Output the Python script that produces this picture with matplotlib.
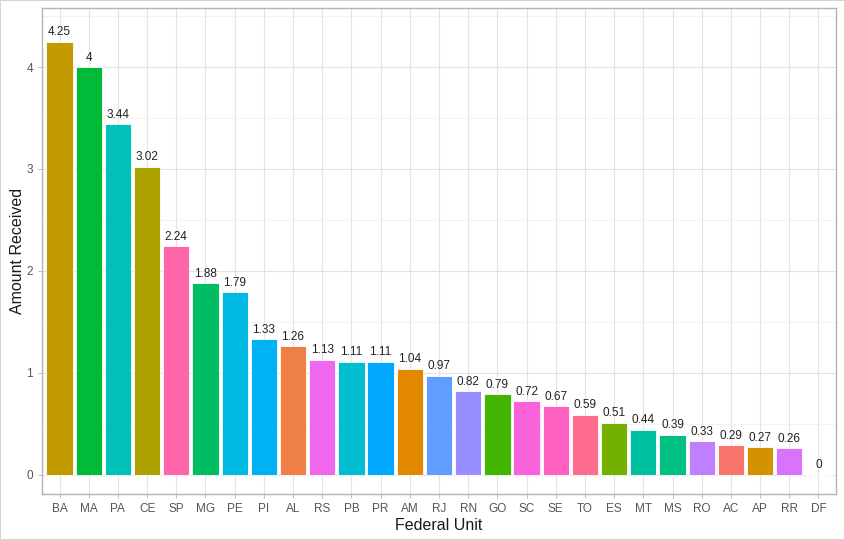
import numpy as np
import matplotlib
matplotlib.use('Agg')
import matplotlib.pyplot as plt

states = ['BA', 'MA', 'PA', 'CE', 'SP', 'MG', 'PE', 'PI', 'AL', 'RS', 'PB', 'PR', 'AM',
          'RJ', 'RN', 'GO', 'SC', 'SE', 'TO', 'ES', 'MT', 'MS', 'RO', 'AC', 'AP', 'RR', 'DF']
amounts = [4.25, 4, 3.44, 3.02, 2.24, 1.88, 1.79, 1.33, 1.26, 1.13, 1.11, 1.11, 1.04,
           0.97, 0.82, 0.79, 0.72, 0.67, 0.59, 0.51, 0.44, 0.39, 0.33, 0.29, 0.27, 0.26, 0]
labels = ['4.25', '4', '3.44', '3.02', '2.24', '1.88', '1.79', '1.33', '1.26', '1.13', '1.11',
          '1.11', '1.04', '0.97', '0.82', '0.79', '0.72', '0.67', '0.59', '0.51', '0.44',
          '0.39', '0.33', '0.29', '0.27', '0.26', '0']


def hcl(h, c=100, l=65):
    # ggplot-style hue colour (polar LUV -> sRGB)
    xn, yn, zn = 95.047, 100.0, 108.883
    un = 4 * xn / (xn + 15 * yn + 3 * zn)
    vn = 9 * yn / (xn + 15 * yn + 3 * zn)
    u_ = c * np.cos(np.radians(h))
    v_ = c * np.sin(np.radians(h))
    y = yn * ((l + 16) / 116) ** 3
    u = u_ / (13 * l) + un
    v = v_ / (13 * l) + vn
    x = 9 * y * u / (4 * v)
    z = -x / 3 - 5 * y + 3 * y / v
    x, y, z = x / 100, y / 100, z / 100
    r = 3.240479 * x - 1.537150 * y - 0.498535 * z
    g = -0.969256 * x + 1.875992 * y + 0.041556 * z
    b = 0.055648 * x - 0.204043 * y + 1.057311 * z

    def gam(t):
        t = min(max(t, 0), 1)
        return 12.92 * t if t <= 0.0031308 else 1.055 * t ** (1 / 2.4) - 0.055
    return (gam(r), gam(g), gam(b))


# fill follows alphabetical order of the states
alpha_order = sorted(states)
hues = np.linspace(15, 375 - 360 / len(alpha_order), len(alpha_order))
palette = {s: hcl(h) for s, h in zip(alpha_order, hues)}
colors = [palette[s] for s in states]

plt.rcParams['font.family'] = ['Liberation Sans', 'DejaVu Sans']

fig = plt.figure(figsize=(8.45, 5.4), dpi=100)
fig.patch.set_edgecolor('#d4d4d4')
fig.patch.set_linewidth(1.2)
ax = fig.add_axes([42 / 845, 1 - 494 / 540, (836 - 42) / 845, (494 - 8) / 540])

x = np.arange(len(states))
ax.bar(x, amounts, width=0.9, color=colors, edgecolor='white', linewidth=0.6, zorder=3)
for xi, val, lab in zip(x, amounts, labels):
    ax.annotate(lab, (xi, val), xytext=(0, 2.5), textcoords='offset points',
                ha='center', va='bottom', fontsize=8.5, color='#222222', zorder=4)

ax.set_xlim(-0.6, len(states) - 0.4)
ax.set_ylim(-0.19, 4.58)
ax.set_xticks(x)
ax.set_xticklabels(states)
ax.set_yticks([0, 1, 2, 3, 4])
ax.set_yticks([0.5, 1.5, 2.5, 3.5, 4.5], minor=True)
ax.grid(True, which='major', color='#e3e3e3', linewidth=0.8, zorder=0)
ax.grid(True, which='minor', axis='y', color='#f1f1f1', linewidth=0.6, zorder=0)
ax.tick_params(axis='both', which='major', colors='#b3b3b3', labelcolor='#555555',
               labelsize=8.5, length=3, width=0.6)
ax.tick_params(axis='y', which='minor', length=0)
for sp in ax.spines.values():
    sp.set_color('#b3b3b3')
    sp.set_linewidth(1)
ax.set_xlabel('Federal Unit', fontsize=11.5, labelpad=2, color='#1a1a1a')
ax.set_ylabel('Amount Received', fontsize=11.5, labelpad=1, color='#1a1a1a')

fig.savefig('out.png', dpi=100)
